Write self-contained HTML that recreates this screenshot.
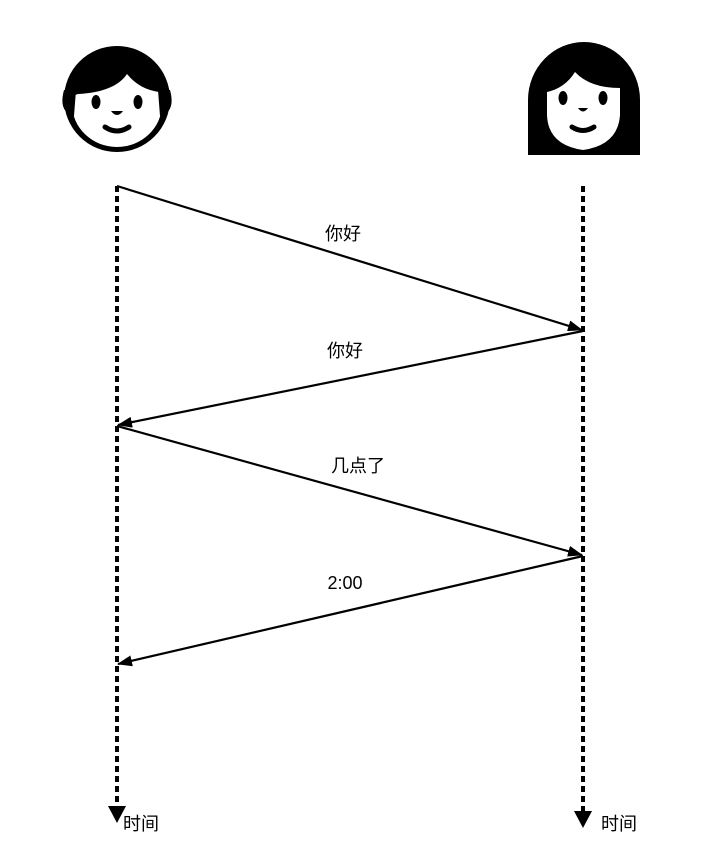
<!DOCTYPE html>
<html><head><meta charset="utf-8"><style>
body{margin:0;background:#fff;}
svg{display:block;}
text{font-family:"Liberation Sans","Noto Sans CJK SC",sans-serif;font-size:18px;fill:#000;}
</style></head><body>
<svg width="703" height="845" viewBox="0 0 703 845">
<defs>
<marker id="ah" markerWidth="15" markerHeight="11" refX="14" refY="5.5" orient="auto" markerUnits="userSpaceOnUse">
<path d="M0,0 L15,5.5 L0,11 Z" fill="#000"/></marker>
</defs>
<g>
<circle cx="117" cy="99" r="53" fill="#000"/>
<ellipse cx="117" cy="104" rx="45" ry="43" fill="#fff"/>
<path d="M66 98 Q68 60 117 50 Q166 60 168 98 L160 92 Q140 90 127 74 Q115 92 78 94 Z" fill="#000"/>
<path d="M64 90 Q58 112 74 116 L76 90 Z M170 90 Q176 112 160 116 L158 90 Z" fill="#000"/>
<ellipse cx="96" cy="102" rx="4.5" ry="7" fill="#000"/>
<ellipse cx="138" cy="102" rx="4.5" ry="7" fill="#000"/>
<path d="M111 111 L123 111 Q117 119 111 111 Z" fill="#000"/>
<path d="M105 127 Q117 135 129 127" stroke="#000" stroke-width="5" fill="none" stroke-linecap="round"/>
</g>
<g>
<path d="M528 155 L528 100 A56 58 0 0 1 640 100 L640 155 Z" fill="#000"/>
<path d="M547 92 Q565 88 575 72 Q590 88 620 88 L620 115 Q618 145 583 150 Q548 145 547 115 Z" fill="#fff"/>
<ellipse cx="563" cy="98" rx="4.5" ry="7" fill="#000"/>
<ellipse cx="603" cy="98" rx="4.5" ry="7" fill="#000"/>
<path d="M578 108 L588 108 Q583 115 578 108 Z" fill="#000"/>
<path d="M572 127 Q583 134 594 127" stroke="#000" stroke-width="5" fill="none" stroke-linecap="round"/>
</g>
<line x1="117" y1="186" x2="117" y2="808" stroke="#000" stroke-width="4" stroke-dasharray="6 4"/>
<path d="M108 806 L126 806 L117 823 Z" fill="#000"/>
<text x="123" y="830">时间</text>
<line x1="583" y1="186" x2="583" y2="811" stroke="#000" stroke-width="4" stroke-dasharray="6 4"/>
<path d="M574 811 L592 811 L583 828 Z" fill="#000"/>
<text x="601" y="830">时间</text>
<g stroke="#000" stroke-width="2.2" fill="none">
<line x1="117" y1="186" x2="582" y2="330" marker-end="url(#ah)"/>
<line x1="583" y1="331" x2="118" y2="425" marker-end="url(#ah)"/>
<line x1="117" y1="426" x2="582" y2="555" marker-end="url(#ah)"/>
<line x1="583" y1="556" x2="118" y2="664" marker-end="url(#ah)"/>
</g>
<text x="343" y="240" text-anchor="middle">你好</text>
<text x="345" y="357" text-anchor="middle">你好</text>
<text x="358" y="472" text-anchor="middle">几点了</text>
<text x="345" y="589" text-anchor="middle">2:00</text>
</svg>
</body></html>
